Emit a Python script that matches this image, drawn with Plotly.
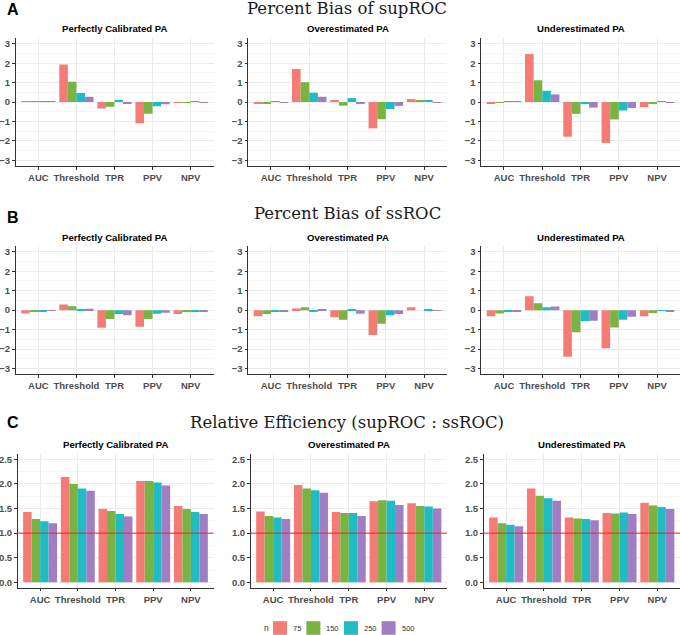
import plotly.graph_objects as go
from plotly.subplots import make_subplots

categories = ["AUC", "Threshold", "TPR", "PPV", "NPV"]
sample_sizes = ["75", "150", "250", "500"]
colors = ["#F47B76", "#79B443", "#1FBCC4", "#A17EC3"]
scenarios = ["Perfectly Calibrated PA", "Overestimated PA", "Underestimated PA"]
section_titles = ["Percent Bias of supROC", "Percent Bias of ssROC",
                  "Relative Efficiency (supROC : ssROC)"]
section_letters = ["A", "B", "C"]
legend_title = "n"

# rows: n = 75, 150, 250, 500 ; columns: AUC, Threshold, TPR, PPV, NPV
sup_perfect = [[0.02, 1.94, -0.34, -1.09, -0.03],
               [0.02, 1.04, -0.24, -0.61, -0.02],
               [0.03, 0.46, 0.10, -0.22, 0.03],
               [0.01, 0.27, -0.07, -0.12, -0.03]]
sup_over = [[-0.08, 1.70, 0.10, -1.36, 0.15],
            [-0.07, 1.02, -0.19, -0.89, 0.08],
            [0.03, 0.48, 0.20, -0.36, 0.10],
            [-0.03, 0.27, -0.08, -0.20, -0.02]]
sup_under = [[-0.07, 2.47, -1.79, -2.11, -0.27],
             [-0.02, 1.12, -0.61, -0.90, -0.07],
             [0.02, 0.58, -0.08, -0.44, 0.05],
             [0.01, 0.39, -0.29, -0.31, -0.02]]
ss_perfect = [[-0.17, 0.29, -0.90, -0.85, -0.20],
              [-0.07, 0.20, -0.46, -0.46, -0.10],
              [-0.05, 0.02, -0.20, -0.19, -0.06],
              [-0.04, 0.07, -0.26, -0.14, -0.06]]
ss_over = [[-0.32, 0.08, -0.36, -1.28, 0.15],
           [-0.20, 0.15, -0.49, -0.70, 0.00],
           [-0.08, -0.05, 0.03, -0.26, 0.04],
           [-0.10, 0.03, -0.19, -0.20, -0.03]]
ss_under = [[-0.31, 0.72, -2.40, -1.96, -0.32],
            [-0.17, 0.36, -1.14, -0.89, -0.15],
            [-0.10, 0.15, -0.56, -0.49, -0.04],
            [-0.07, 0.19, -0.55, -0.34, -0.08]]
re_perfect = [[1.43, 2.14, 1.49, 2.06, 1.55],
              [1.29, 2.00, 1.45, 2.06, 1.49],
              [1.24, 1.91, 1.39, 2.03, 1.43],
              [1.20, 1.86, 1.34, 1.97, 1.39]]
re_over = [[1.44, 1.98, 1.43, 1.65, 1.61],
           [1.35, 1.91, 1.41, 1.67, 1.55],
           [1.32, 1.87, 1.41, 1.66, 1.54],
           [1.29, 1.82, 1.35, 1.57, 1.50]]
re_under = [[1.32, 1.91, 1.32, 1.41, 1.62],
            [1.20, 1.76, 1.30, 1.40, 1.56],
            [1.17, 1.71, 1.29, 1.42, 1.53],
            [1.14, 1.66, 1.26, 1.39, 1.49]]

panels = [[sup_perfect, sup_over, sup_under],
          [ss_perfect, ss_over, ss_under],
          [re_perfect, re_over, re_under]]

W, H = 680, 635
fig = make_subplots(rows=3, cols=3)

# pixel geometry of plot areas
col_px = [[(15.5, 213.5), (248, 447), (481, 680)],
          [(15.5, 213.5), (248, 447), (481, 680)],
          [(17.5, 213.5), (250.5, 447), (483.5, 680)]]
row_px = [(38, 166), (246, 374.3), (454, 587.7)]
sub_title_y = [28, 237, 444]
sec_title_y = [8.5, 213, 423]
letter_y = [10, 218, 422]

sans = "Liberation Sans, Arial, sans-serif"
grid_major = "#EBEBEB"
grid_minor = "#F6F6F6"
tick_font = dict(family=sans, size=9.5, color="#4D4D4D", weight="bold")

for r in range(3):
    for c in range(3):
        data = panels[r][c]
        for i, n in enumerate(sample_sizes):
            fig.add_trace(go.Bar(
                x=categories, y=data[i], name=n, marker_color=colors[i],
                marker_line_width=0, showlegend=False), row=r + 1, col=c + 1)
        idx = r * 3 + c + 1
        xa = "xaxis" if idx == 1 else f"xaxis{idx}"
        ya = "yaxis" if idx == 1 else f"yaxis{idx}"
        x0, x1 = col_px[r][c]
        t, b = row_px[r]
        fig.layout[xa].update(
            domain=[x0 / W, x1 / W], range=[-0.6, 4.6], showgrid=True,
            gridcolor=grid_major, gridwidth=1,
            showline=True, linecolor="#333333", linewidth=1,
            ticks="outside", ticklen=2.5, tickcolor="#333333", tickangle=0,
            tickfont=tick_font, automargin=False, fixedrange=True)
        if r < 2:
            yextra = dict(range=[-3.3, 3.3], tickvals=[-3, -2, -1, 0, 1, 2, 3],
                          minor=dict(showgrid=True, gridcolor=grid_minor, dtick=0.5,
                                     tick0=0.5, ticks=""))
        else:
            yextra = dict(range=[-0.11, 2.61], tickvals=[0, 0.5, 1, 1.5, 2, 2.5],
                          tickformat=".1f",
                          minor=dict(showgrid=True, gridcolor=grid_minor, dtick=0.25,
                                     tick0=0.25, ticks=""))
        fig.layout[ya].update(
            domain=[1 - b / H, 1 - t / H], showgrid=True, gridcolor=grid_major,
            gridwidth=1, zeroline=False,
            showline=True, linecolor="#333333", linewidth=1,
            ticks="outside", ticklen=2.5, tickcolor="#333333",
            tickfont=tick_font, automargin=False, fixedrange=True, **yextra)
        fig.add_annotation(
            x=(x0 + x1) / 2 / W, y=1 - sub_title_y[r] / H, xref="paper", yref="paper",
            text=scenarios[c], showarrow=False, xanchor="center", yanchor="middle",
            font=dict(family=sans, size=9.6, color="black", weight="bold"))
        if r == 2:
            fig.add_shape(type="line", xref=f"x{idx} domain", yref=f"y{idx}",
                          x0=0, x1=1, y0=1, y1=1, line=dict(color="#E8262B", width=1))

for r in range(3):
    fig.add_annotation(
        x=347 / W, y=1 - sec_title_y[r] / H, xref="paper", yref="paper",
        text=section_titles[r], showarrow=False, xanchor="center", yanchor="middle",
        font=dict(family="DejaVu Serif, serif", size=16.5, color="#1a1a1a"))
    fig.add_annotation(
        x=5 / W, y=1 - letter_y[r] / H, xref="paper", yref="paper",
        text=section_letters[r], showarrow=False, xanchor="left", yanchor="middle",
        font=dict(family=sans, size=16, color="black", weight="bold"))

# legend drawn beneath the panels
leg_y = 628
fig.add_annotation(x=262 / W, y=1 - leg_y / H, xref="paper", yref="paper",
                   text=legend_title, showarrow=False, xanchor="left", yanchor="middle",
                   font=dict(family=sans, size=8.5, color="#333333"))
lx = 273
for i, n in enumerate(sample_sizes):
    fig.add_shape(type="rect", xref="paper", yref="paper",
                  x0=lx / W, x1=(lx + 14) / W,
                  y0=1 - (leg_y + 6.8) / H, y1=1 - (leg_y - 6.8) / H,
                  line=dict(width=0), fillcolor=colors[i])
    fig.add_annotation(x=(lx + 18) / W, y=1 - leg_y / H, xref="paper", yref="paper",
                       text=n, showarrow=False, xanchor="left", yanchor="middle",
                       font=dict(family=sans, size=7.5, color="#333333"))
    lx += 18 + 4.2 * len(n) + 7

fig.update_layout(
    width=W, height=H, margin=dict(l=0, r=0, t=0, b=0),
    paper_bgcolor="white", plot_bgcolor="white",
    barmode="group", bargap=0.1, bargroupgap=0,
    font=dict(family=sans), showlegend=False,
)

fig.write_html("out.html", config={"displayModeBar": False},
               post_script="document.body.style.margin='0';document.body.style.padding='0';")
